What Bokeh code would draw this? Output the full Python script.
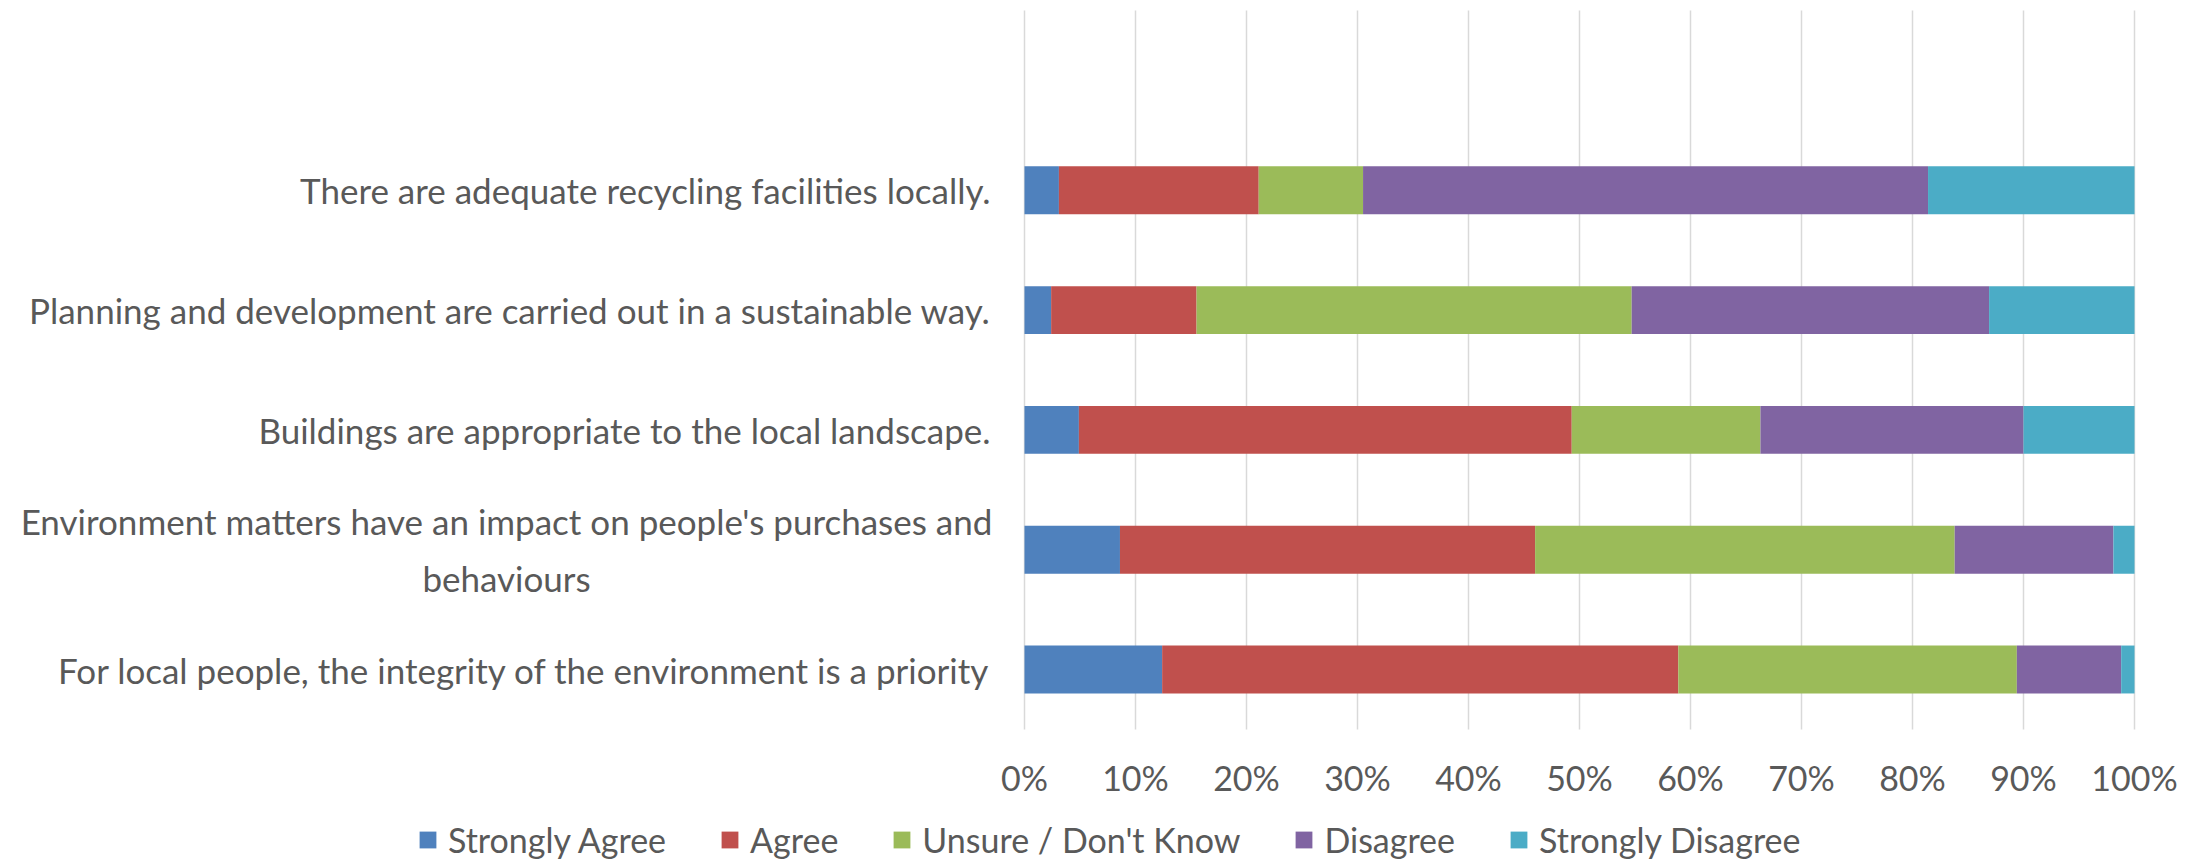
from bokeh.plotting import figure
from bokeh.models import ColumnDataSource, Range1d, Legend, LegendItem
from bokeh.core.properties import value
from bokeh.embed import file_html
from bokeh.resources import INLINE

# ---- data (percent), bottom to top ----
statements = [
    "For local people, the integrity of the environment is a priority",
    "Environment matters have an impact on people's purchases and\nbehaviours",
    "Buildings are appropriate to the local landscape.",
    "Planning and development are carried out in a sustainable way.",
    "There are adequate recycling facilities locally.",
]
strongly_agree = [12.4, 8.6, 4.9, 2.4, 3.1]
agree = [46.5, 37.4, 44.4, 13.1, 18.0]
unsure = [30.5, 37.8, 17.0, 39.2, 9.4]
disagree = [9.4, 14.3, 23.7, 32.2, 50.9]
strongly_disagree = [1.2, 1.9, 10.0, 13.1, 18.6]

series_names = ["Strongly Agree", "Agree", "Unsure / Don't Know", "Disagree", "Strongly Disagree"]
series_keys = ["sa", "a", "u", "d", "sd"]
colors = ["#4F81BD", "#C0504D", "#9BBB59", "#8064A2", "#4BACC6"]
x_ticks = [0, 0.1, 0.2, 0.3, 0.4, 0.5, 0.6, 0.7, 0.8, 0.9, 1.0]
x_tick_labels = ["0%", "10%", "20%", "30%", "40%", "50%", "60%", "70%", "80%", "90%", "100%"]

# ---- layout constants (pixels) ----
W, H = 2200, 862
PLOT_LEFT, PLOT_WIDTH = 1024, 1110      # where 0% and the 0..100% span sit
ROW0_CENTER, ROW_STEP = 669, 119.8      # centre of bottom bar, distance between bars

FONT = value("Lato")
TXT = "#595959"

n = len(statements)
ypos = list(range(n))
source = ColumnDataSource(dict(
    y=ypos,
    sa=[v / 100 for v in strongly_agree],
    a=[v / 100 for v in agree],
    u=[v / 100 for v in unsure],
    d=[v / 100 for v in disagree],
    sd=[v / 100 for v in strongly_disagree],
))

x_range = Range1d(-PLOT_LEFT / PLOT_WIDTH, (W - PLOT_LEFT) / PLOT_WIDTH)
y_range = Range1d(-(H - ROW0_CENTER) / ROW_STEP, ROW0_CENTER / ROW_STEP)

p = figure(width=W, height=H, output_backend="svg", toolbar_location=None,
           x_range=x_range, y_range=y_range, x_axis_type=None, y_axis_type=None,
           min_border_left=0, min_border_right=0, min_border_top=0, min_border_bottom=0)
p.outline_line_color = None
p.background_fill_color = "white"
p.border_fill_color = "white"
p.xgrid.visible = False
p.ygrid.visible = False

y_lo, y_hi = -0.5, n + 0.5   # category band incl. one empty slot on top

# vertical gridlines at the percentage ticks
p.segment(x0=x_ticks, x1=x_ticks, y0=[y_lo] * len(x_ticks), y1=[y_hi] * len(x_ticks),
          line_color="#d9d9d9", line_width=1.5)

renderers = p.hbar_stack(series_keys, y="y", height=0.4, color=colors, source=source,
                         line_color=None)

# x tick labels
p.text(x=x_ticks, y=[y_lo] * len(x_ticks), text=x_tick_labels, y_offset=48,
       text_align="center", text_baseline="middle", text_font=FONT,
       text_font_size="34px", text_color=TXT)

# category labels
single = [i for i in ypos if "\n" not in statements[i]]
multi = [i for i in ypos if "\n" in statements[i]]
p.text(x=[0] * len(single), y=[ypos[i] for i in single], text=[statements[i] for i in single],
       x_offset=-34, text_align="right", text_baseline="middle", text_font=FONT,
       text_font_size="35px", text_color=TXT)
p.text(x=[0] * len(multi), y=[ypos[i] for i in multi], text=[statements[i] for i in multi],
       x_offset=-518, text_align="center", text_baseline="middle", text_font=FONT,
       text_font_size="35px", text_color=TXT, text_line_height=1.35)

legend = Legend(items=[LegendItem(label=nm, renderers=[r]) for nm, r in zip(series_names, renderers)],
                orientation="horizontal", location=(417, 2),
                glyph_width=21, glyph_height=21, label_height=21,
                label_standoff=10, spacing=53, padding=0, margin=0,
                border_line_color=None, background_fill_alpha=0,
                label_text_font="Lato", label_text_font_size="34px", label_text_color=TXT)
p.add_layout(legend, "center")

open("out.html", "w").write(file_html(p, INLINE))
